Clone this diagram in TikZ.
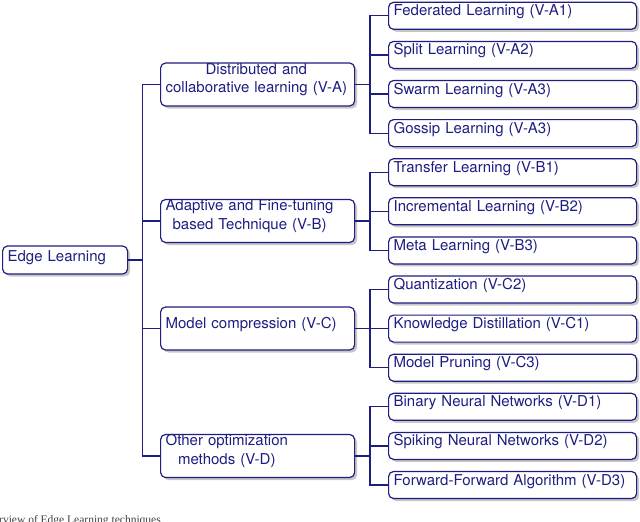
\documentclass[tikz,border=0pt]{standalone}
\usepackage{fontspec}
\setmainfont{TeX Gyre Heros}
\newfontfamily\capfont{Liberation Serif}
\usetikzlibrary{shadows}

\definecolor{navy}{RGB}{30,30,130}
\newcommand{\twolines}[1]{\begin{tabular}[t]{@{}c@{}}#1\end{tabular}}

\tikzset{
  box/.style={draw=navy, fill=white, text=navy, rounded corners=5pt, line width=1.2pt,
    anchor=west, inner xsep=5pt, font=\fontsize{15}{18.5}\selectfont,
    drop shadow={shadow xshift=2.5pt, shadow yshift=-2.5pt, fill=black, opacity=0.22}},
  rootbox/.style={box, text width=115pt, inner ysep=2pt, text height=13pt, text depth=11pt},
  topicbox/.style={box, text width=184pt, inner ysep=1pt, text height=10pt, text depth=31pt},
  leafbox/.style={box, text width=238pt, inner ysep=2pt, text height=11.5pt, text depth=11.5pt}
}

\begin{document}
\begin{tikzpicture}[x=1pt, y=-1pt]
\useasboundingbox (0,0) rectangle (640,522);

\node[rootbox] (edgelearning) at (2,260) {Edge Learning};

\node[topicbox] (distributed) at (160,84.5) {\twolines{Distributed and\\collaborative learning (V-A)}};
\node[topicbox] (adaptive) at (160,221) {\twolines{Adaptive and Fine-tuning\\based Technique (V-B)}};
\node[topicbox, text height=20.5pt, text depth=20.5pt] (compression) at (160,328.5) {Model compression (V-C)};
\node[topicbox] (otheropt) at (160,456) {\twolines{Other optimization\\methods (V-D)}};

\node[leafbox] (federated) at (388,15.8) {Federated Learning (V-A1)};
\node[leafbox] (split) at (388,54.9) {Split Learning (V-A2)};
\node[leafbox] (swarm) at (388,94) {Swarm Learning (V-A3)};
\node[leafbox] (gossip) at (388,133.1) {Gossip Learning (V-A3)};
\node[leafbox] (transfer) at (388,172.2) {Transfer Learning (V-B1)};
\node[leafbox] (incremental) at (388,211.3) {Incremental Learning (V-B2)};
\node[leafbox] (meta) at (388,250.4) {Meta Learning (V-B3)};
\node[leafbox] (quantization) at (388,289.5) {Quantization (V-C2)};
\node[leafbox] (distillation) at (388,328.6) {Knowledge Distillation (V-C1)};
\node[leafbox] (pruning) at (388,367.7) {Model Pruning (V-C3)};
\node[leafbox] (binary) at (388,406.8) {Binary Neural Networks (V-D1)};
\node[leafbox] (spiking) at (388,445.9) {Spiking Neural Networks (V-D2)};
\node[leafbox] (forward) at (388,485) {Forward-Forward Algorithm (V-D3)};

\node[anchor=base west, inner sep=0pt, text=black!75,
      font=\capfont\fontsize{11.5}{13}\selectfont] (caption) at (-1,523.5) {rview of Edge Learning techniques};

\coordinate (trunk) at (142.5,260);
\coordinate (busA) at (370,84.5);
\coordinate (busB) at (370,221);
\coordinate (busC) at (370,328.5);
\coordinate (busD) at (370,456);

\begin{scope}[navy, line width=1.2pt]
    \draw (edgelearning) -- (trunk);
    \draw (trunk) |- (distributed);
    \draw (trunk) |- (adaptive);
    \draw (trunk) |- (compression);
    \draw (trunk) |- (otheropt);

    \draw (distributed) -- (busA);
    \draw (busA) |- (federated);
    \draw (busA) |- (split);
    \draw (busA) |- (swarm);
    \draw (busA) |- (gossip);

    \draw (adaptive) -- (busB);
    \draw (busB) |- (transfer);
    \draw (busB) |- (incremental);
    \draw (busB) |- (meta);

    \draw (compression) -- (busC);
    \draw (busC) |- (quantization);
    \draw (busC) |- (distillation);
    \draw (busC) |- (pruning);

    \draw (otheropt) -- (busD);
    \draw (busD) |- (binary);
    \draw (busD) |- (spiking);
    \draw (busD) |- (forward);
\end{scope}
\end{tikzpicture}
\end{document}
